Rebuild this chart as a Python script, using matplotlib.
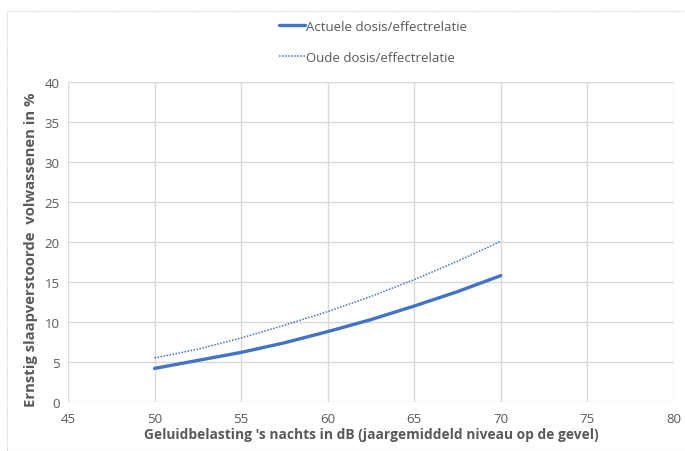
import matplotlib
matplotlib.use("Agg")
import matplotlib.pyplot as plt
from matplotlib.patches import Rectangle

# Data
db_levels = [50, 52.5, 55, 57.5, 60, 62.5, 65, 67.5, 70]
actuele = [4.2, 5.2, 6.2, 7.4, 8.8, 10.3, 12.0, 13.8, 15.8]
oude = [5.5, 6.6, 8.0, 9.6, 11.3, 13.2, 15.3, 17.6, 20.1]

x_ticks = [45, 50, 55, 60, 65, 70, 75, 80]
y_ticks = [0, 5, 10, 15, 20, 25, 30, 35, 40]

label_actuele = "Actuele dosis/effectrelatie"
label_oude = "Oude dosis/effectrelatie"
x_label = "Geluidbelasting 's nachts in dB (jaargemiddeld niveau op de gevel)"
y_label = "Ernstig slaapverstoorde  volwassenen in %"

plt.rcParams['font.family'] = ['Open Sans', 'DejaVu Sans']

W, H = 685, 452
fig = plt.figure(figsize=(W / 100, H / 100), dpi=100)
fig.patch.set_facecolor('white')

# chart frame (dotted light border)
fig.patches.append(Rectangle((7 / W, 0), 1, 1 - 12 / H, transform=fig.transFigure,
                             fill=False, edgecolor='#d0d0d0', linestyle=(0, (1, 1)),
                             linewidth=0.8))

ax = fig.add_axes([68 / W, 1 - 403 / H, (674 - 68) / W, (403 - 83) / H])
blue = '#4472C4'
l1, = ax.plot(db_levels, actuele, color=blue, linewidth=2.4, solid_capstyle='round')
l2, = ax.plot(db_levels, oude, color=blue, linewidth=1.1, linestyle=(0, (1, 1)))

ax.set_xlim(45, 80)
ax.set_ylim(0, 40)
ax.set_xticks(x_ticks)
ax.set_yticks(y_ticks)
ax.grid(True, color='#d9d9d9', linewidth=1)
ax.set_axisbelow(True)
for s in ax.spines.values():
    s.set_visible(False)
ax.tick_params(length=0, labelsize=9.5, colors='#595959', pad=6)
ax.tick_params(axis='x', pad=7)

ax.set_xlabel(x_label, fontsize=9.9, fontweight='bold', color='#595959', labelpad=2)
ax.set_ylabel(y_label, fontsize=10.7, fontweight='bold', color='#595959')
ax.yaxis.set_label_coords(-0.05, 0.478)

fig.legend([l1, l2], [label_actuele, label_oude], loc='center',
           bbox_to_anchor=(373 / W, 1 - 43 / H), frameon=False, fontsize=9.5,
           labelcolor='#595959', labelspacing=1.35, handlelength=2.0, handletextpad=0.1)

fig.savefig('out.png', dpi=100, facecolor='white')
